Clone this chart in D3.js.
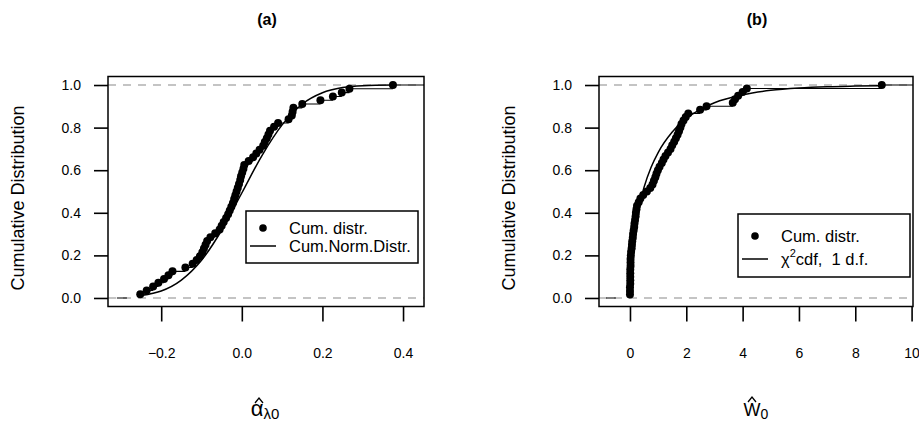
<!DOCTYPE html>
<html lang="en">
<head>
    <meta charset="UTF-8">
    <title>Cumulative distributions</title>
    <script src="https://d3js.org/d3.v7.min.js"></script>
    <style>
        body { margin: 0; background: #fff; }
        text { font-family: "Liberation Sans", Arial, Helvetica, sans-serif; fill: #000; white-space: pre; }
    </style>
</head>
<body>
    <svg width="919" height="421" id="chart"></svg>

    <script>
        // ---- data ----
        // panel (a): sorted sample of alpha-hat
        const sampleA = [-0.252, -0.236, -0.220, -0.207, -0.193, -0.182, -0.172, -0.140, -0.122, -0.112,
                         -0.104, -0.098, -0.094, -0.090, -0.086, -0.078, -0.066, -0.055, -0.050, -0.045,
                         -0.039, -0.034, -0.030, -0.026, -0.022, -0.019, -0.016, -0.013, -0.010, -0.007,
                         -0.004, -0.002, 0.001, 0.004, 0.006, 0.017, 0.028, 0.036, 0.044, 0.053,
                         0.057, 0.062, 0.066, 0.070, 0.080, 0.090, 0.116, 0.124, 0.126, 0.128,
                         0.150, 0.195, 0.226, 0.248, 0.267, 0.375];
        // normal cdf curve
        const normX = [-0.252, -0.22, -0.20, -0.15, -0.10, -0.05, 0.00, 0.05, 0.10, 0.15, 0.20, 0.25, 0.30, 0.375];
        const normY = [0.010, 0.022, 0.033, 0.084, 0.177, 0.318, 0.493, 0.669, 0.813, 0.911, 0.964, 0.988, 0.997, 1.0];

        // panel (b): sorted sample of W-hat
        const sampleB = [0.00, 0.00, 0.00, 0.01, 0.01, 0.01, 0.01, 0.01, 0.02, 0.02,
                         0.02, 0.03, 0.04, 0.06, 0.07, 0.08, 0.10, 0.11, 0.13, 0.15,
                         0.16, 0.18, 0.20, 0.21, 0.23, 0.25, 0.31, 0.37, 0.47, 0.60,
                         0.72, 0.80, 0.85, 0.90, 0.94, 0.99, 1.05, 1.13, 1.19, 1.26,
                         1.35, 1.44, 1.50, 1.57, 1.63, 1.69, 1.74, 1.79, 1.83, 1.90,
                         1.98, 2.07, 2.49, 2.72, 3.65, 3.73, 3.84, 4.00, 4.15, 8.94];
        // chi-square (1 d.f.) cdf curve
        const chiX = [0, 0.02, 0.05, 0.1, 0.2, 0.3, 0.5, 0.75, 1, 1.5, 2, 2.5, 3, 4, 5, 6, 7, 8, 8.94];
        const chiY = [0, 0.11, 0.18, 0.25, 0.345, 0.416, 0.52, 0.614, 0.683, 0.779, 0.843, 0.886, 0.917, 0.954, 0.975, 0.986, 0.992, 0.995, 0.997];

        const yTicks = [0, 0.2, 0.4, 0.6, 0.8, 1.0];
        const xTicksA = [-0.2, 0.0, 0.2, 0.4];
        const xTicksB = [0, 2, 4, 6, 8, 10];
        const titles = ["(a)", "(b)"];
        const legendA = ["Cum. distr.", "Cum.Norm.Distr."];
        const legendB = ["Cum. distr.", "cdf,  1 d.f."];

        const svg = d3.select("#chart");

        function drawPanel(p) {
            const g = svg.append("g");
            const x = d3.scaleLinear().domain(p.xDomain).range([p.left, p.right]);
            const y = d3.scaleLinear().domain([-0.04, 1.04]).range([306.5, 76.5]);

            const clipId = "clip" + p.id;
            svg.append("clipPath").attr("id", clipId).append("rect")
                .attr("x", p.left).attr("y", 76.5)
                .attr("width", p.right - p.left).attr("height", 230);

            const plot = g.append("g").attr("clip-path", `url(#${clipId})`);

            // dashed reference lines at 0 and 1
            [0, 1].forEach(v => {
                plot.append("line")
                    .attr("x1", p.left).attr("x2", p.right)
                    .attr("y1", y(v)).attr("y2", y(v))
                    .attr("stroke", "#8a8a8a").attr("stroke-width", 1.2)
                    .attr("stroke-dasharray", "8,7");
            });

            // empirical cdf: horizontal steps
            const n = p.sample.length;
            const steps = [];
            steps.push([p.stepStart[0], p.stepStart[1], 0]);
            p.sample.forEach((v, i) => {
                const next = i < n - 1 ? p.sample[i + 1] : p.xDomain[1];
                steps.push([v, next, (i + 1) / n]);
            });
            plot.selectAll(".step").data(steps).join("line")
                .attr("x1", d => x(d[0])).attr("x2", d => x(d[1]))
                .attr("y1", d => y(d[2])).attr("y2", d => y(d[2]))
                .attr("stroke", "#000").attr("stroke-width", 1.1);

            // theoretical cdf
            const curvePts = p.curveX.map((v, i) => [v, p.curveY[i]]);
            plot.append("path")
                .attr("d", d3.line().x(d => x(d[0])).y(d => y(d[1])).curve(d3.curveMonotoneX)(curvePts))
                .attr("fill", "none").attr("stroke", "#000").attr("stroke-width", 1.5);

            // points
            plot.selectAll(".pt").data(p.sample).join("circle")
                .attr("cx", d => x(d))
                .attr("cy", (d, i) => y((i + 1) / n))
                .attr("r", 4).attr("fill", "#000");

            // box
            g.append("rect")
                .attr("x", p.left).attr("y", 76.5)
                .attr("width", p.right - p.left).attr("height", 230)
                .attr("fill", "none").attr("stroke", "#000").attr("stroke-width", 1.5);

            // axes
            const ya = g.append("g").attr("transform", `translate(${p.left},0)`)
                .call(d3.axisLeft(y).tickValues(yTicks).tickFormat(d3.format(".1f")).tickSize(14).tickPadding(13));
            const xa = g.append("g").attr("transform", "translate(0,306.5)")
                .call(d3.axisBottom(x).tickValues(p.xTicks).tickFormat(p.xFormat).tickSize(15).tickPadding(27));
            [ya, xa].forEach(a => {
                a.select(".domain").remove();
                a.selectAll("line").attr("stroke-width", 1.6);
                a.selectAll("text").attr("font-size", 14).attr("font-family", null);
            });

            const cx = (p.left + p.right) / 2;

            // title
            g.append("text").attr("x", cx + 1).attr("y", 25)
                .attr("text-anchor", "middle").attr("font-size", 16).attr("font-weight", "bold")
                .text(p.title);

            // y axis title
            g.append("text")
                .attr("transform", `translate(${p.left - 84},198) rotate(-90)`)
                .attr("text-anchor", "middle").attr("font-size", 18)
                .text("Cumulative Distribution");

            // legend
            const lg = g.append("g").attr("transform", `translate(${p.legend.x},${p.legend.y})`);
            lg.append("rect").attr("width", p.legend.w).attr("height", p.legend.h)
                .attr("fill", "#fff").attr("stroke", "#000").attr("stroke-width", 1.5);
            lg.append("circle").attr("cx", 17).attr("cy", p.legend.row1).attr("r", 3.8).attr("fill", "#000");
            lg.append("line").attr("x1", 4).attr("x2", 30)
                .attr("y1", p.legend.row2).attr("y2", p.legend.row2)
                .attr("stroke", "#000").attr("stroke-width", 1.5);
            lg.append("text").attr("x", 43).attr("y", p.legend.row1 + 6)
                .attr("font-size", 16.5).text(p.legendText[0]);
            const t2 = lg.append("text").attr("x", 43).attr("y", p.legend.row2 + 6).attr("font-size", 16.5);
            if (p.chi) {
                t2.append("tspan").text("\u03c7");
                t2.append("tspan").attr("font-size", 11).attr("dy", -8).text("2");
                t2.append("tspan").attr("dy", 8).text(p.legendText[1]);
            } else {
                t2.text(p.legendText[1]);
            }

            return { g, cx };
        }

        const a = drawPanel({
            id: "a", left: 108, right: 424, xDomain: [-0.332, 0.452],
            sample: sampleA, stepStart: [-0.31, -0.285],
            curveX: normX, curveY: normY,
            xTicks: xTicksA, xFormat: d3.format(".1f"), title: titles[0],
            legend: { x: 246, y: 211, w: 172, h: 52, row1: 17, row2: 35 },
            legendText: legendA, chi: false
        });

        const b = drawPanel({
            id: "b", left: 599, right: 913, xDomain: [-1.10, 10.05],
            sample: sampleB, stepStart: [-0.85, -0.5],
            curveX: chiX, curveY: chiY,
            xTicks: xTicksB, xFormat: d3.format("d"), title: titles[1],
            legend: { x: 738, y: 214, w: 172, h: 63, row1: 22, row2: 45 },
            legendText: legendB, chi: true
        });

        // small hat mark drawn as a path
        function hat(g, cx, top) {
            g.append("path")
                .attr("d", `M${cx - 4},${top + 5}L${cx},${top}L${cx + 4},${top + 5}`)
                .attr("fill", "none").attr("stroke", "#000").attr("stroke-width", 1.3);
        }

        // x axis titles: alpha-hat with subscript lambda0, W-hat with subscript 0
        const ta = a.g.append("text").attr("x", a.cx - 1).attr("y", 416).attr("text-anchor", "middle");
        ta.append("tspan").attr("font-size", 22).text("\u03b1");
        ta.append("tspan").attr("font-size", 15).attr("dy", 3).text("\u03bb0");
        hat(a.g, a.cx - 7, 398);

        const tb = b.g.append("text").attr("x", b.cx).attr("y", 416).attr("text-anchor", "middle");
        tb.append("tspan").attr("font-size", 18).text("W");
        tb.append("tspan").attr("font-size", 14).attr("dy", 3).text("0");
        hat(b.g, b.cx - 4, 397);
    </script>
</body>
</html>
